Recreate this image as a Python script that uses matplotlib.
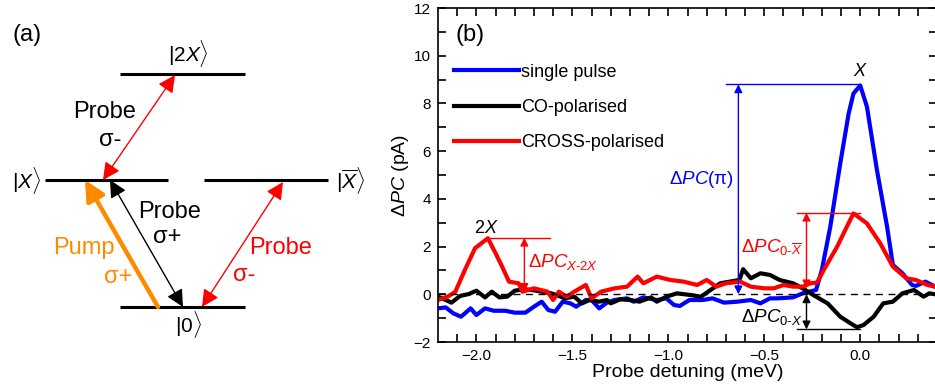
import matplotlib.pyplot as plt

plt.rcParams['font.family'] = ['Liberation Sans', 'DejaVu Sans']
plt.rcParams['mathtext.fontset'] = 'custom'
plt.rcParams['mathtext.rm'] = 'Liberation Sans'
plt.rcParams['mathtext.it'] = 'Liberation Sans:italic'
plt.rcParams['mathtext.bf'] = 'Liberation Sans:bold'

# ---- panel (b) data ----
x_single = [-2.2, -2.16, -2.12, -2.08, -2.03, -2.0, -1.955, -1.91, -1.85, -1.80, -1.745, -1.70,
            -1.66, -1.625, -1.59, -1.55, -1.51, -1.48, -1.43, -1.40, -1.36, -1.32, -1.28, -1.215,
            -1.18, -1.13, -1.06, -1.01, -0.97, -0.94, -0.89, -0.82, -0.77, -0.71, -0.64, -0.57,
            -0.52, -0.47, -0.43, -0.35, -0.30, -0.23, -0.20, -0.156, -0.104, -0.06, -0.035, 0.0,
            0.035, 0.087, 0.14, 0.17, 0.22, 0.27, 0.29, 0.34, 0.39]
y_single = [-0.59, -0.55, -0.80, -0.94, -0.59, -0.87, -0.59, -0.69, -0.69, -0.77, -0.77, -0.52,
            -0.31, -0.66, -0.73, -0.31, -0.38, -0.52, -0.24, -0.24, -0.59, -0.35, -0.24, -0.17,
            -0.31, -0.13, -0.24, -0.17, -0.45, -0.49, -0.24, -0.24, -0.17, -0.35, -0.31, -0.24,
            -0.38, -0.17, -0.17, -0.13, 0.04, 0.18, 1.02, 2.83, 5.49, 7.59, 8.42, 8.75,
            7.86, 5.21, 2.83, 1.23, 0.88, 0.39, 0.35, 0.53, 0.32]

x_co = [-2.2, -2.16, -2.13, -2.085, -2.04, -2.0, -1.955, -1.92, -1.88, -1.84, -1.80, -1.755,
        -1.71, -1.66, -1.61, -1.57, -1.54, -1.49, -1.45, -1.41, -1.36, -1.32, -1.30, -1.25,
        -1.20, -1.15, -1.09, -1.06, -1.01, -0.955, -0.885, -0.83, -0.78, -0.73, -0.68, -0.63,
        -0.61, -0.57, -0.52, -0.47, -0.42, -0.35, -0.30, -0.245, -0.17, -0.104, -0.05, -0.017,
        0.017, 0.07, 0.12, 0.17, 0.22, 0.28, 0.33, 0.36, 0.39]
y_co = [-0.10, -0.24, -0.35, -0.07, 0.01, 0.15, -0.13, 0.11, -0.13, -0.10, 0.15, 0.21,
        0.18, 0.11, 0.04, -0.07, -0.17, -0.10, -0.38, -0.24, -0.31, -0.24, -0.38, -0.21,
        -0.24, -0.31, -0.13, -0.31, -0.10, 0.04, -0.03, -0.10, 0.18, 0.46, 0.53, 0.60,
        1.05, 0.67, 0.88, 0.81, 0.60, 0.46, 0.25, -0.03, -0.38, -0.94, -1.22, -1.38,
        -1.29, -0.94, -0.38, -0.31, 0.04, 0.18, -0.10, 0.04, 0.0]

x_cross = [-2.2, -2.15, -2.11, -2.06, -2.007, -1.94, -1.90, -1.87, -1.83, -1.78, -1.76, -1.70,
           -1.63, -1.60, -1.57, -1.53, -1.49, -1.43, -1.40, -1.35, -1.28, -1.215, -1.16, -1.13,
           -1.06, -0.99, -0.92, -0.85, -0.80, -0.75, -0.70, -0.625, -0.57, -0.50, -0.45, -0.40,
           -0.35, -0.30, -0.26, -0.225, -0.19, -0.12, -0.07, -0.035, 0.035, 0.104, 0.17, 0.24,
           0.29, 0.35, 0.39]
y_cross = [-0.24, -0.10, 0.10, 1.02, 1.93, 2.35, 1.72, 1.23, 0.53, 0.46, 0.11, 0.25,
           0.11, -0.24, 0.11, -0.10, 0.11, 0.39, -0.17, 0.11, 0.25, 0.32, 0.74, 0.46,
           0.74, 0.60, 0.53, 0.39, 0.60, 0.32, 0.46, 0.53, 0.32, 0.25, 0.25, 0.39,
           0.32, 0.32, 0.46, 0.49, 1.02, 2.00, 2.83, 3.39, 2.97, 2.14, 1.16, 0.67,
           0.60, 0.39, 0.32]

labels = ['single pulse', 'CO-polarised', 'CROSS-polarised']
colors = ['#0000ff', '#000000', '#ff0000']

# annotation values (pA)
pc_pi = 8.8
pc_0xbar = 3.42
pc_0x = -1.47
pc_x2x_top = 2.37
pc_x2x_bot = 0.1

fig = plt.figure(figsize=(9.35, 3.87), dpi=100)

# ---- panel (a): level scheme ----
ax_a = fig.add_axes([0, 0, 380 / 935, 1])
ax_a.set_xlim(0, 380)
ax_a.set_ylim(387, 0)
ax_a.axis('off')

for x0, x1, yy in [(120, 245, 74), (45, 168, 180), (204, 328, 180), (120, 245, 307)]:
    ax_a.plot([x0, x1], [yy, yy], color='black', lw=2.2, solid_capstyle='butt')

fs_lvl = 15
ax_a.text(188, 53, r'$|2X\rangle$', fontsize=fs_lvl, ha='center', va='center')
ax_a.text(27, 180, r'$|X\rangle$', fontsize=fs_lvl, ha='center', va='center')
ax_a.text(351, 180, r'$|\overline{X}\rangle$', fontsize=fs_lvl, ha='center', va='center')
ax_a.text(188, 325, r'$|\mathit{0}\rangle$', fontsize=fs_lvl, ha='center', va='center')
ax_a.text(27, 35, '(a)', fontsize=17, ha='center', va='center')


def arrow(ax, p0, p1, color, style, lw, ms):
    ax.annotate('', xy=p1, xytext=p0,
                arrowprops=dict(arrowstyle=style, color=color, lw=lw,
                                mutation_scale=ms, shrinkA=0, shrinkB=0))


arrow(ax_a, (103, 180), (175, 75), 'red', '<|-|>', 1.0, 26)
arrow(ax_a, (158, 307), (85, 180), '#ff8a00', '-|>', 3.2, 30)
arrow(ax_a, (110, 180), (183, 307), 'black', '<|-|>', 1.0, 26)
arrow(ax_a, (202, 307), (283, 182), 'red', '<|-|>', 1.0, 26)

fs_a = 17
ax_a.text(105, 112, 'Probe', fontsize=fs_a, ha='center', va='center')
ax_a.text(110, 140, 'σ-', fontsize=fs_a, ha='center', va='center')
ax_a.text(84, 248, 'Pump', fontsize=fs_a, ha='center', va='center', color='#ff8a00')
ax_a.text(118, 277, 'σ+', fontsize=fs_a, ha='center', va='center', color='#ff8a00')
ax_a.text(170, 212, 'Probe', fontsize=fs_a, ha='center', va='center')
ax_a.text(167, 237, 'σ+', fontsize=fs_a, ha='center', va='center')
ax_a.text(281, 248, 'Probe', fontsize=fs_a, ha='center', va='center', color='red')
ax_a.text(244, 275, 'σ-', fontsize=fs_a, ha='center', va='center', color='red')

# ---- panel (b): spectra ----
ax = fig.add_axes([438 / 935, 45 / 387, 499 / 935, 334 / 387])
ax.plot(x_single, y_single, color=colors[0], lw=3, label=labels[0])
ax.plot(x_co, y_co, color=colors[1], lw=3, label=labels[1])
ax.plot(x_cross, y_cross, color=colors[2], lw=3, label=labels[2])
ax.axhline(0, color='black', lw=1, ls=(0, (5, 4)))

ax.set_xlim(-2.2, 0.4)
ax.set_ylim(-2, 12)
ax.set_xticks([-2.0, -1.5, -1.0, -0.5, 0.0])
ax.set_xticks([-2.1 + 0.1 * i for i in range(25)], minor=True)
ax.set_yticks(range(-2, 13, 2))
ax.set_yticks(range(-1, 12, 2), minor=True)
ax.tick_params(which='both', direction='in', top=True, right=True, width=1.2, labelsize=11)
ax.tick_params(which='major', length=6, pad=5)
ax.tick_params(which='minor', length=6)
for s in ax.spines.values():
    s.set_linewidth(1.2)
ax.set_xlabel('Probe detuning (meV)', fontsize=14, labelpad=1)
ax.set_ylabel(r'$\Delta PC$ (pA)', fontsize=14, labelpad=2)
ax.text(0.064, 0.919, '(b)', transform=ax.transAxes, fontsize=17, ha='center', va='center')

ax.legend(loc='upper left', bbox_to_anchor=(0.033, 0.833), frameon=False, fontsize=13,
          handlelength=3.6, handletextpad=0.1, labelspacing=1.0, borderpad=0,
          borderaxespad=0)

fs_b = 13.5
# single pulse height
ax.plot([-0.70, 0.0], [pc_pi, pc_pi], color='blue', lw=1)
arrow(ax, (-0.635, 0.0), (-0.635, pc_pi), 'blue', '<|-|>', 1.0, 12)
ax.text(-0.66, 4.8, r'$\Delta PC$(π)', color='blue', fontsize=fs_b, ha='right', va='center')
ax.text(0.0, 9.35, r'$X$', fontsize=13, ha='center', va='center')
# cross-polarised height
ax.plot([-0.33, 0.0], [pc_0xbar, pc_0xbar], color='red', lw=1)
arrow(ax, (-0.28, 0.25), (-0.28, pc_0xbar), 'red', '<|-|>', 1.0, 12)
ax.text(-0.30, 2.0, r'$\Delta PC_{\mathit{0}\text{-}\overline{X}}$', color='red', fontsize=fs_b,
        ha='right', va='center')
# co-polarised dip
ax.plot([-0.33, 0.0], [pc_0x, pc_0x], color='black', lw=1)
arrow(ax, (-0.28, 0.0), (-0.28, pc_0x), 'black', '<|-|>', 1.0, 12)
ax.text(-0.30, -0.94, r'$\Delta PC_{\mathit{0}\text{-}X}$', color='black', fontsize=fs_b,
        ha='right', va='center')
# biexciton
ax.plot([-1.94, -1.615], [pc_x2x_top, pc_x2x_top], color='red', lw=1)
arrow(ax, (-1.75, pc_x2x_bot), (-1.75, pc_x2x_top), 'red', '<|-|>', 1.0, 12)
ax.text(-1.73, 1.37, r'$\Delta PC_{X\text{-}\mathit{2}X}$', color='red', fontsize=fs_b,
        ha='left', va='center')
ax.text(-1.95, 2.75, r'2$X$', fontsize=13, ha='center', va='center')

fig.savefig('out.png', dpi=100)
